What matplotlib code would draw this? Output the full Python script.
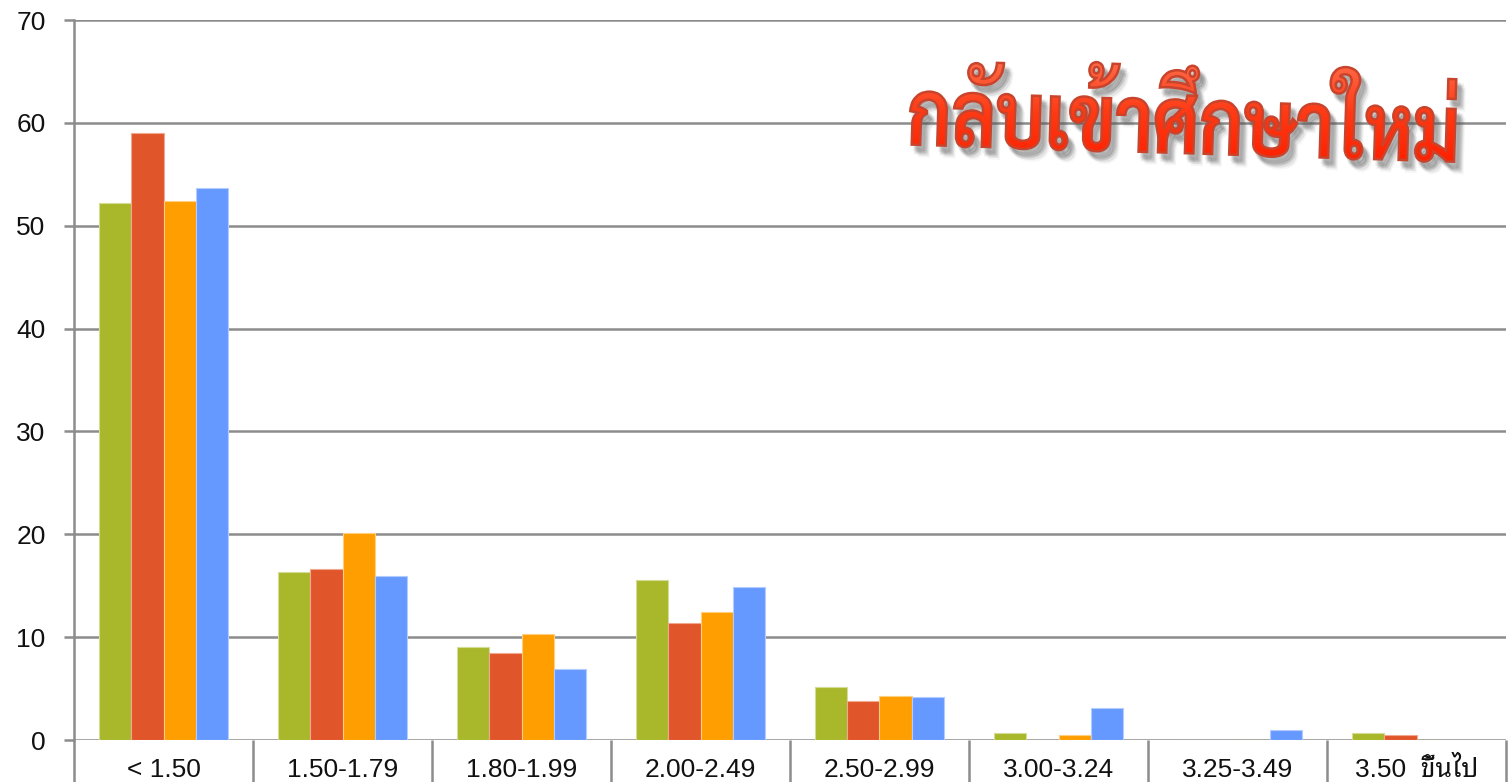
import matplotlib
matplotlib.use("Agg")
import matplotlib.pyplot as plt
import numpy as np
from matplotlib.textpath import TextPath
from matplotlib.font_manager import FontProperties
from matplotlib.patches import PathPatch
from matplotlib.transforms import Affine2D
from matplotlib.colors import LinearSegmentedColormap

categories = ["< 1.50", "1.50-1.79", "1.80-1.99", "2.00-2.49", "2.50-2.99",
              "3.00-3.24", "3.25-3.49", "3.50  ขึ้นไป"]
series_green = [52.2, 16.3, 9.0, 15.6, 5.2, 0.65, 0.0, 0.65]
series_red = [59.0, 16.6, 8.5, 11.4, 3.8, 0.0, 0.0, 0.45]
series_orange = [52.4, 20.1, 10.3, 12.4, 4.3, 0.5, 0.0, 0.0]
series_blue = [53.7, 15.9, 6.9, 14.9, 4.2, 3.1, 1.0, 0.0]
y_ticks = [0, 10, 20, 30, 40, 50, 60, 70]
title = "กลับเข้าศึกษาใหม่"

colors = ["#a9b82b", "#e0552a", "#ff9e00", "#6699ff"]
edges = ["#d4dc95", "#f0a890", "#ffcf80", "#b3ccff"]

W, H = 1511, 782
fig = plt.figure(figsize=(W / 100, H / 100), dpi=100)
ax = fig.add_axes([74 / W, 42 / H, (1506 - 74) / W, (740 - 20) / H])

x = np.arange(len(categories))
bw = 0.181
all_series = [series_green, series_red, series_orange, series_blue]
for i, (vals, c, e) in enumerate(zip(all_series, colors, edges)):
    ax.bar(x + (i - 1.5) * bw, vals, width=bw, color=c, edgecolor=e,
           linewidth=0.8, zorder=3)

ax.set_xlim(-0.5, len(categories) - 0.5)
ax.set_ylim(0, 70)
ax.set_yticks(y_ticks)
ax.grid(axis="y", color="#8c8c8c", linewidth=1.8, zorder=1)
ax.set_axisbelow(True)

for s in ["top", "right", "bottom"]:
    ax.spines[s].set_visible(False)
ax.spines["left"].set_color("#8c8c8c")
ax.spines["left"].set_linewidth(1.8)

ax.tick_params(axis="y", length=7.5, width=1.8, color="#8c8c8c", pad=13,
               labelsize=19)
ax.set_xticks(x)
ax.set_xticks(np.arange(len(categories) + 1) - 0.5, minor=True)
ax.set_xticklabels(categories)
ax.tick_params(axis="x", which="major", length=0, pad=26.5, labelsize=19)
ax.tick_params(axis="x", which="minor", length=32, width=1.8, color="#8c8c8c")
for lbl in ax.get_xticklabels():
    lbl.set_verticalalignment("baseline")
for lbl in ax.get_xticklabels() + ax.get_yticklabels():
    lbl.set_family(["Liberation Sans", "Noto Sans Thai Looped", "DejaVu Sans"])
    lbl.set_color("#111111")

# Title drawn as a styled text path
ov = fig.add_axes([0, 0, 1, 1], zorder=10)
ov.set_axis_off()
ov.patch.set_alpha(0)

fp = FontProperties(family="Sarabun", weight="semibold")
tp = TextPath((0, 0), title, size=100, prop=fp)
bb = tp.get_extents()
cx, cy = (bb.x0 + bb.x1) / 2, (bb.y0 + bb.y1) / 2
tw, th = 545, 92
tcx, tcy = 1183, 108
tr = (Affine2D().translate(-cx, -cy).scale(tw / bb.width, -th / bb.height)
      .rotate_deg(1.8).translate(tcx, tcy))
path = tr.transform_path(tp)

# soft shadow
for dx, dy, a in [(3, 5, 0.10), (5, 7, 0.09), (7, 9, 0.07),
                  (4, 8, 0.08), (6, 6, 0.07), (8, 11, 0.05)]:
    sp = Affine2D().translate(dx, dy).transform_path(path)
    ov.add_patch(PathPatch(sp, facecolor="#555555", edgecolor="#555555",
                           linewidth=2.5, alpha=a))

grad_cmap = LinearSegmentedColormap.from_list("g", ["#ff6a48", "#ff3a14", "#ff2000"])
outline = PathPatch(path, facecolor="none", edgecolor="#c8442c", linewidth=1.8, zorder=3)
ov.add_patch(outline)
ext = path.get_extents()
grad = np.linspace(0, 1, 256).reshape(-1, 1)
im = ov.imshow(grad, extent=(ext.x0, ext.x1, ext.y1, ext.y0), cmap=grad_cmap,
               aspect="auto", zorder=2, interpolation="bilinear")
im.set_clip_path(outline)
ov.set_xlim(0, W)
ov.set_ylim(H, 0)

fig.savefig("out.png", dpi=100)
